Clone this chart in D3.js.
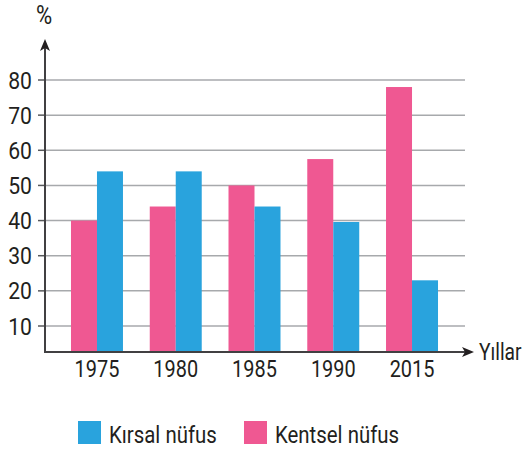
<!DOCTYPE html>
<html>
<head>
<meta charset="utf-8">
<script src="https://cdn.jsdelivr.net/npm/d3@7"></script>
<style>
  body { margin: 0; background: #fff; }
  text { font-family: "Roboto", "Liberation Sans", sans-serif; fill: #231f20; }
</style>
</head>
<body>
<div id="chart"></div>
<script>
// data
var years = ["1975", "1980", "1985", "1990", "2015"];
var kentsel = [40, 44, 50, 57.5, 78];   // pink
var kirsal  = [54, 54, 44, 39.6, 23];   // blue
var yTicks  = [10, 20, 30, 40, 50, 60, 70, 80];
var seriesNames = ["Kırsal nüfus", "Kentsel nüfus"];
var colors = { kirsal: "#29a3dd", kentsel: "#ef5892" };

var width = 525, height = 451;
var axisX = 45, baseY = 352;

var svg = d3.select("#chart")
  .append("svg")
    .attr("width", width)
    .attr("height", height);

// scales
var y = d3.scaleLinear()
  .domain([10, 80])
  .range([326, 80]);

var x = d3.scaleBand()
  .domain(years)
  .range([57.6, 451.4])
  .paddingInner(0.34)
  .paddingOuter(0.17);

var xSub = d3.scaleBand()
  .domain(["kentsel", "kirsal"])
  .range([0, x.bandwidth()]);

// grid lines
svg.append("g")
  .selectAll("line")
  .data(yTicks)
  .join("line")
    .attr("x1", axisX)
    .attr("x2", 465)
    .attr("y1", d => y(d))
    .attr("y2", d => y(d))
    .attr("stroke", "#a7a9ac")
    .attr("stroke-width", 1.5);

// bars
var rows = years.map((yr, i) => ({ year: yr, kentsel: kentsel[i], kirsal: kirsal[i] }));

var groups = svg.append("g")
  .selectAll("g")
  .data(rows)
  .join("g")
    .attr("transform", d => `translate(${x(d.year)},0)`);

groups.selectAll("rect")
  .data(d => ["kentsel", "kirsal"].map(k => ({ key: k, value: d[k] })))
  .join("rect")
    .attr("x", d => xSub(d.key))
    .attr("y", d => y(d.value))
    .attr("width", xSub.bandwidth())
    .attr("height", d => baseY - y(d.value))
    .attr("fill", d => colors[d.key]);

// condensed look: squeeze text horizontally
function squeeze(px, py, sx) {
  return `translate(${px},${py}) scale(${sx},1)`;
}

// y ticks + labels
var yAxis = svg.append("g");
yAxis.selectAll("line")
  .data(yTicks)
  .join("line")
    .attr("x1", 38)
    .attr("x2", axisX)
    .attr("y1", d => y(d))
    .attr("y2", d => y(d))
    .attr("stroke", "#58595b")
    .attr("stroke-width", 1.5);
yAxis.selectAll("text")
  .data(yTicks)
  .join("text")
    .attr("transform", d => squeeze(32, y(d) + 8.5, 0.92))
    .attr("text-anchor", "end")
    .style("font-size", "23px")
    .text(d => d);

// x labels
svg.append("g")
  .selectAll("text")
  .data(years)
  .join("text")
    .attr("transform", d => squeeze(x(d) + x.bandwidth() / 2, 377, 0.83))
    .attr("text-anchor", "middle")
    .style("font-size", "24px")
    .text(d => d);

// axes lines with arrows
svg.append("line")
  .attr("x1", axisX).attr("x2", axisX)
  .attr("y1", baseY + 1).attr("y2", 48)
  .attr("stroke", "#414042").attr("stroke-width", 2);
svg.append("path")
  .attr("d", `M${axisX},39 L${axisX - 5},51 L${axisX},48 L${axisX + 5},51 Z`)
  .attr("fill", "#231f20");

svg.append("line")
  .attr("x1", axisX - 1).attr("x2", 466)
  .attr("y1", baseY).attr("y2", baseY)
  .attr("stroke", "#414042").attr("stroke-width", 2);
svg.append("path")
  .attr("d", `M474,${baseY} L462,${baseY - 5} L465,${baseY} L462,${baseY + 5} Z`)
  .attr("fill", "#231f20");

svg.append("text")
  .attr("transform", squeeze(36, 24, 0.85))
  .style("font-size", "26px")
  .text("%");

svg.append("text")
  .attr("transform", squeeze(479, 360, 0.8))
  .style("font-size", "24px")
  .text("Yıllar");

// legend
var legend = [
  { name: seriesNames[0], color: colors.kirsal, x: 78 },
  { name: seriesNames[1], color: colors.kentsel, x: 244 }
];
var lg = svg.append("g")
  .selectAll("g")
  .data(legend)
  .join("g")
    .attr("transform", d => `translate(${d.x},421)`);
lg.append("rect")
  .attr("width", 23).attr("height", 23)
  .attr("fill", d => d.color);
lg.append("text")
  .attr("transform", squeeze(31, 22, 0.85))
  .style("font-size", "24px")
  .text(d => d.name);
</script>
</body>
</html>
